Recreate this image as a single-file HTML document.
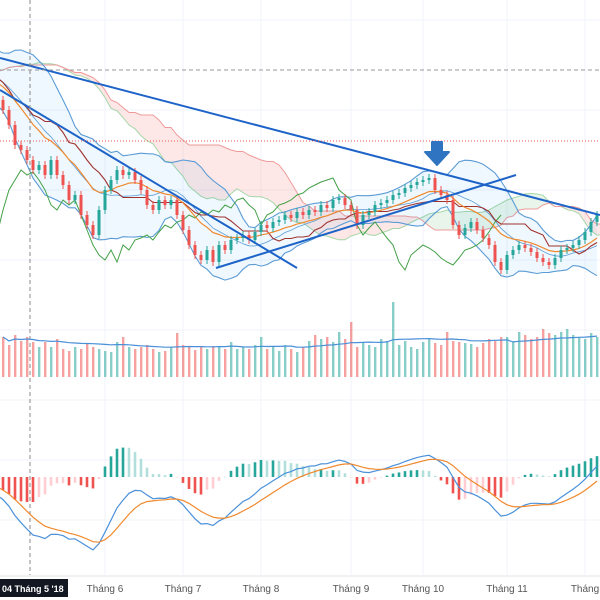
<!DOCTYPE html>
<html><head><meta charset="utf-8"><style>
html,body{margin:0;padding:0;background:#fff;}
svg{display:block;font-family:"Liberation Sans","Noto Sans CJK SC",sans-serif;}
</style></head><body>
<svg id="chart" width="600" height="600" viewBox="0 0 600 600">
<g id="grid"></g>
<g id="price"></g>
<g id="vol"></g>
<g id="macd"></g>
<g id="axis"></g>
</svg>
<script>
// ---- data ----
const priorCloses=[32.5,33,33.2,32.8,33.5,34,34.2,33.8,34.5,34,33.5,33,33.2,32.5,32,31.5,31,31.2,30.5,30];
const closes=[29.0,27.5,25.5,25.0,24.0,23.0,23.5,22.5,24.0,22.5,21.5,20.0,20.5,18.5,17.5,16.5,19.0,21.0,22.0,23.0,
22.5,22.8,22.0,21.0,19.5,19.0,20.0,19.5,20.0,18.5,17.0,15.5,14.5,14.0,15.0,13.8,15.5,15.0,16.0,16.2,
16.5,16.0,16.8,17.5,17.2,17.8,18.0,18.5,18.2,18.8,18.5,19.0,18.8,19.5,19.2,20.0,20.2,19.5,19.0,17.5,
18.5,18.8,19.5,19.7,20.0,20.5,20.7,21.2,21.5,21.8,22.0,22.2,21.0,20.5,20.0,17.5,16.5,17.2,17.8,17.0,
16.2,15.5,13.8,13.0,14.5,15.0,15.5,15.2,14.8,14.2,13.8,13.5,14.2,15.0,15.2,15.5,16.0,16.8,17.8,18.5];
const volumes=[40,32,42,36,40,35,30,35,30,38,28,26,30,28,33,30,28,26,25,35,
40,30,28,30,32,28,25,26,30,44,32,30,27,30,28,31,30,28,35,28,
30,28,32,40,28,30,26,32,28,25,30,36,42,38,40,35,45,38,55,30,
35,32,30,38,36,75,32,36,30,28,35,38,34,32,45,36,35,34,33,30,
34,38,36,40,40,35,45,42,38,40,48,44,42,45,48,42,40,38,44,40];
const monthLabels=["Tháng 6","Tháng 7","Tháng 8","Tháng 9","Tháng 10","Tháng 11","Tháng"];
const monthBars=[17,30,43,58,70,84,97];
const trendLines=[[-0.5,34.2,99.5,18.5],[-0.5,31.0,49,13.2],[35.5,13.2,85.5,22.5]];

// ---- scales ----
const NS="http://www.w3.org/2000/svg";
const allC=priorCloses.concat(closes);
const P=priorCloses.length;
const xb=i=>3+(i-P)*6;
const yp=p=>(40-p)*10;
const yv=v=>377-v;
const MZ=477,MK=25,HK=35;const ym=m=>MZ-m*MK;const yh=h=>MZ-h*HK;
function el(parent,tag,attrs,name,inter){const e=document.createElementNS(NS,tag);for(const k in attrs)e.setAttribute(k,attrs[k]);


parent.appendChild(e);return e;}
const G=document.getElementById('grid'),PR=document.getElementById('price'),VO=document.getElementById('vol'),MA=document.getElementById('macd'),AX=document.getElementById('axis');

monthBars.forEach(b=>el(G,'line',{x1:xb(b+P),x2:xb(b+P),y1:0,y2:575,stroke:'#f0f3fa'},'grid-vline'));
[20,110,190,260,330,400,460,520].forEach(y=>el(G,'line',{x1:0,x2:600,y1:y,y2:y,stroke:'#f0f3fa'},'grid-hline'));

const N=allC.length;
const opens=allC.map((c,i)=>i?allC[i-1]:c+0.3);
const highs=allC.map((c,i)=>Math.max(c,opens[i])+0.4);
const lows=allC.map((c,i)=>Math.min(c,opens[i])-0.4);
function sma(a,n,i){let s=0,k=0;for(let j=Math.max(0,i-n+1);j<=i;j++){s+=a[j];k++;}return s/k;}
function hl(i,n){let h=-1e9,l=1e9;for(let j=Math.max(0,i-n+1);j<=i;j++){h=Math.max(h,highs[j]);l=Math.min(l,lows[j]);}return (h+l)/2;}
const bbM=[],bbU=[],bbL=[];
for(let i=0;i<N;i++){const m=sma(allC,12,i);let v=0,k=0;for(let j=Math.max(0,i-11);j<=i;j++){v+=(allC[j]-m)**2;k++;}const sd=Math.sqrt(v/k);bbM.push(m);bbU.push(m+2*sd);bbL.push(m-2*sd);}
const ema=(a,n)=>{const r=[];const k=2/(n+1);a.forEach((v,i)=>r.push(i?v*k+r[i-1]*(1-k):v));return r;};
const ma20=ema(allC,12);
const tenkan=[],kijun=[],spanA=[],spanB=[];
for(let i=0;i<N;i++){tenkan.push(hl(i,6));kijun.push(hl(i,16));}
const SH=16;
for(let i=0;i<N+SH;i++){const s=i-SH;if(s<0){spanA.push(null);spanB.push(null);continue;}spanA.push((tenkan[s]+kijun[s])/2);spanB.push(hl(s,32));}

function path(arr,off,name,stroke,w){let d='';arr.forEach((v,i)=>{if(v==null)return;const x=xb(i+off);d+=(d?'L':'M')+x.toFixed(1)+' '+yp(v).toFixed(1);});return el(PR,'path',{d,fill:'none',stroke,'stroke-width':w||1},name);}

for(let i=1;i<N+SH;i++){if(spanA[i-1]==null)continue;const up=spanA[i]>=spanB[i];
el(PR,'polygon',{points:[[xb(i-1),yp(spanA[i-1])],[xb(i),yp(spanA[i])],[xb(i),yp(spanB[i])],[xb(i-1),yp(spanB[i-1])]].map(p=>p.join(',')).join(' '),fill:up?'rgba(76,175,80,0.12)':'rgba(244,67,54,0.12)',stroke:'none'},'ichimoku-cloud-segment');}
path(spanA,0,'span-a','#a5d6a7',1);path(spanB,0,'span-b','#ef9a9a',1);
let bd='';for(let i=0;i<N;i++)bd+=(i?'L':'M')+xb(i)+' '+yp(bbU[i]);for(let i=N-1;i>=0;i--)bd+='L'+xb(i)+' '+yp(bbL[i]);
el(PR,'path',{d:bd+'Z',fill:'rgba(33,150,243,0.07)',stroke:'none'},'bollinger-fill');
path(bbU,0,'bollinger-upper','#5b9bd5',1.1);path(bbL,0,'bollinger-lower','#5b9bd5',1.1);path(bbM,0,'bollinger-basis','#5b9bd5',0.8);
path(allC.map((c,i)=>allC[i+SH]!==undefined?allC[i+SH]:null),0,'chikou-span','#43a047',1);
path(kijun,0,'kijun-line','#a0322e',1.1);
path(ma20,0,'moving-average','#f0892e',1.2);
for(let i=P;i<N;i++){const up=allC[i]>=opens[i];const c=up?'#26a69a':'#ef5350';const x=xb(i);
el(PR,'line',{x1:x,x2:x,y1:yp(highs[i]),y2:yp(lows[i]),stroke:c,'stroke-width':1},'candle-wick');
const t=yp(Math.max(opens[i],allC[i])),b=yp(Math.min(opens[i],allC[i]));
el(PR,'rect',{x:x-1.5,y:t,width:3,height:Math.max(1,b-t),fill:c},'candle-body',true);}
trendLines.forEach(t=>el(PR,'line',{x1:xb(t[0]+P),y1:yp(t[1]),x2:xb(t[2]+P),y2:yp(t[3]),stroke:'#1e64c8','stroke-width':2},'trend-line',true));
el(PR,'line',{x1:0,x2:600,y1:141,y2:141,stroke:'#ef5350','stroke-dasharray':'1 2','stroke-width':1},'price-level-line');
el(PR,'line',{x1:0,x2:600,y1:70,y2:70,stroke:'#999','stroke-dasharray':'4 3'},'crosshair-horizontal');
el(PR,'line',{x1:30,x2:30,y1:0,y2:577,stroke:'#888','stroke-dasharray':'4 3'},'crosshair-vertical');
el(PR,'path',{d:'M432 142 L442 142 L442 152 L449 152 L437 165 L425 152 L432 152 Z',fill:'#2f74c0',stroke:'#2f74c0','stroke-linejoin':'round','stroke-width':2},'down-arrow-marker');

for(let i=0;i<closes.length;i++){const g=i+P;const up=allC[g]>=opens[g];
el(VO,'rect',{x:xb(g)-1,y:yv(volumes[i]),width:2.4,height:volumes[i],fill:up?'rgba(38,166,154,0.55)':'rgba(239,83,80,0.55)'},'volume-bar');}
let vd='';volumes.forEach((v,i)=>{vd+=(i?'L':'M')+xb(i+P)+' '+yv(sma(volumes,20,i)).toFixed(1);});
el(VO,'path',{d:vd,fill:'none',stroke:'#4a90d9','stroke-width':1.2},'volume-ma');

const e1=ema(allC,8),e2=ema(allC,17);const macd=allC.map((c,i)=>e1[i]-e2[i]);const sig=ema(macd,7);
for(let i=P;i<N;i++){const h=macd[i]-sig[i];const prev=macd[i-1]-sig[i-1];const grow=Math.abs(h)>=Math.abs(prev);
const col=h>=0?(grow?'#26a69a':'#b2dfdb'):(grow?'#ef5350':'#ffcdd2');
el(MA,'rect',{x:xb(i)-1.3,y:Math.min(yh(h),MZ),width:2.6,height:Math.max(0.5,Math.abs(yh(h)-MZ)),fill:col},'macd-histogram-bar');}
let md='',sd2='';for(let i=P-4;i<N;i++){md+=(md?'L':'M')+xb(i)+' '+ym(macd[i]).toFixed(1);sd2+=(sd2?'L':'M')+xb(i)+' '+ym(sig[i]).toFixed(1);}
el(MA,'path',{d:md,fill:'none',stroke:'#4a90d9','stroke-width':1.2},'macd-line');
el(MA,'path',{d:sd2,fill:'none',stroke:'#f0892e','stroke-width':1.2},'signal-line');

el(AX,'rect',{x:0,y:575,width:600,height:25,fill:'#fff'},'axis-background');
el(AX,'line',{x1:0,x2:600,y1:576,y2:576,stroke:'#e0e3eb'},'axis-line');
monthLabels.forEach((m,i)=>{const t=el(AX,'text',{x:xb(monthBars[i]+P),y:592,'font-size':10,fill:'#555','text-anchor':'middle'},'month-label');t.textContent=m;});
el(AX,'rect',{x:0,y:579,width:68,height:18,fill:'#131722'},'crosshair-date-box');
const dt=el(AX,'text',{x:2,y:592,'font-size':9,fill:'#fff','font-weight':'bold'},'crosshair-date-label');dt.textContent="04 Tháng 5 '18";
</script>
</body></html>
